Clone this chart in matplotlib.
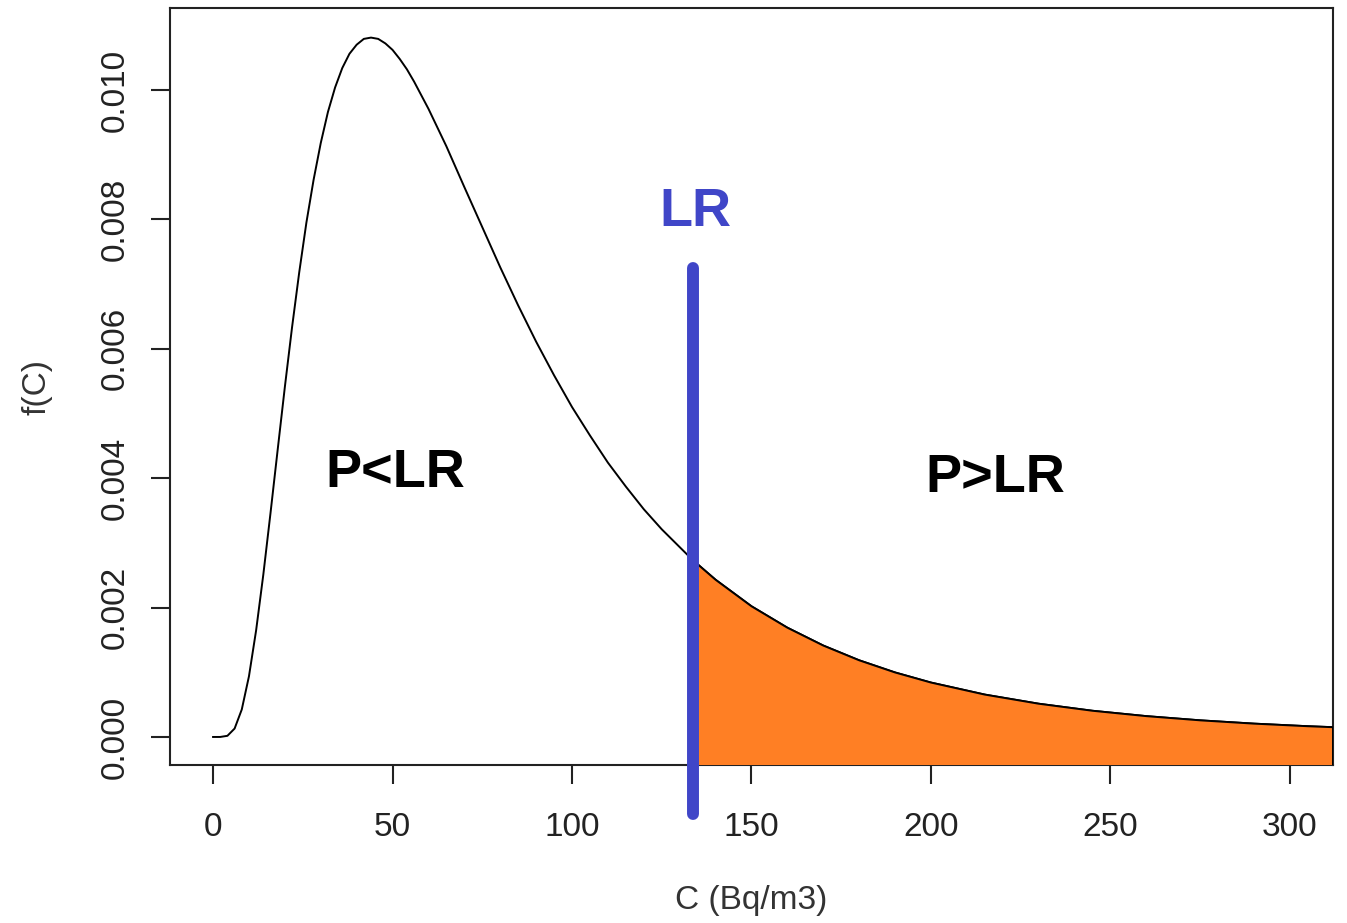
import numpy as np
import matplotlib.pyplot as plt

plt.rcParams['font.family'] = ['Liberation Sans', 'DejaVu Sans']

# density curve (C in Bq/m3, f(C))
conc = [0, 2, 4, 6, 8, 10, 12, 14, 16, 18, 20, 22, 24, 26, 28, 30, 32, 34,
        36, 38, 40, 42, 44, 46, 48, 50, 52, 54, 56, 60, 65, 70, 75, 80, 85,
        90, 95, 100, 105, 110, 115, 120, 125, 133.6, 140, 150, 160, 170,
        180, 190, 200, 215, 230, 245, 260, 275, 290, 305, 312]
dens = [0.0, 0.0000003, 0.000018, 0.00013, 0.000425, 0.000938, 0.00165,
        0.00251, 0.00346, 0.00444, 0.00541, 0.00633, 0.00718, 0.00795,
        0.00861, 0.00918, 0.00966, 0.01004, 0.01034, 0.01056, 0.01070,
        0.01079, 0.01081, 0.01079, 0.01072, 0.01062, 0.01048, 0.01032,
        0.01013, 0.00971, 0.00913, 0.00850, 0.00788, 0.00726, 0.00667,
        0.00611, 0.00559, 0.00510, 0.00466, 0.00424, 0.00387, 0.00352,
        0.00321, 0.002736, 0.00243, 0.00202, 0.001689, 0.001413, 0.001185,
        0.000997, 0.000841, 0.000655, 0.000514, 0.000405, 0.000322,
        0.000257, 0.000206, 0.000166, 0.000151]

LR = 133.6
x_ticks = [0, 50, 100, 150, 200, 250, 300]
y_ticks = [0.000, 0.002, 0.004, 0.006, 0.008, 0.010]
y_tick_labels = ['0.000', '0.002', '0.004', '0.006', '0.008', '0.010']

fig = plt.figure(figsize=(13.47, 9.23), dpi=100)
ax = fig.add_axes([0.1262, 0.1712, 0.8634, 0.8201])

x = np.array(conc)
y = np.array(dens)

ax.plot(x, y, color='black', lw=1.4, zorder=2)

# tail above the limit
tail = x >= LR
px = np.concatenate([[LR], x[tail], [x[tail][-1]]])
py = np.concatenate([[-0.001], y[tail], [-0.001]])
ax.fill(px, py, facecolor='#FF7F24', edgecolor='black', lw=1.4, zorder=3)

ax.plot([LR, LR], [0.00725, -0.00119], color='#4046C8', lw=8.6,
        solid_capstyle='round', clip_on=False, zorder=4)

ax.text(LR + 0.8, 0.00811, 'LR', color='#4046C8', fontsize=39,
        fontweight='bold', ha='center', va='center')
ax.text(50.9, 0.00408, 'P<LR', fontsize=39, fontweight='bold',
        ha='center', va='center')
ax.text(217.9, 0.00400, 'P>LR', fontsize=39, fontweight='bold',
        ha='center', va='center')

ax.set_xlim(-12, 312)
ax.set_ylim(-0.000433, 0.011267)
ax.set_xticks(x_ticks)
ax.set_yticks(y_ticks)
ax.set_yticklabels(y_tick_labels, rotation=90, va='center')

ax.tick_params(axis='both', direction='out', length=14, width=1.5,
               labelsize=24, colors='#222222')
ax.tick_params(axis='x', pad=20)
ax.tick_params(axis='y', pad=14)
for s in ax.spines.values():
    s.set_linewidth(1.5)
    s.set_color('#222222')

ax.set_xlabel('C (Bq/m3)', fontsize=24, color='#333333', labelpad=30)
ax.set_ylabel('f(C)', fontsize=24, color='#333333', labelpad=34)

fig.savefig('out.png', dpi=100)
